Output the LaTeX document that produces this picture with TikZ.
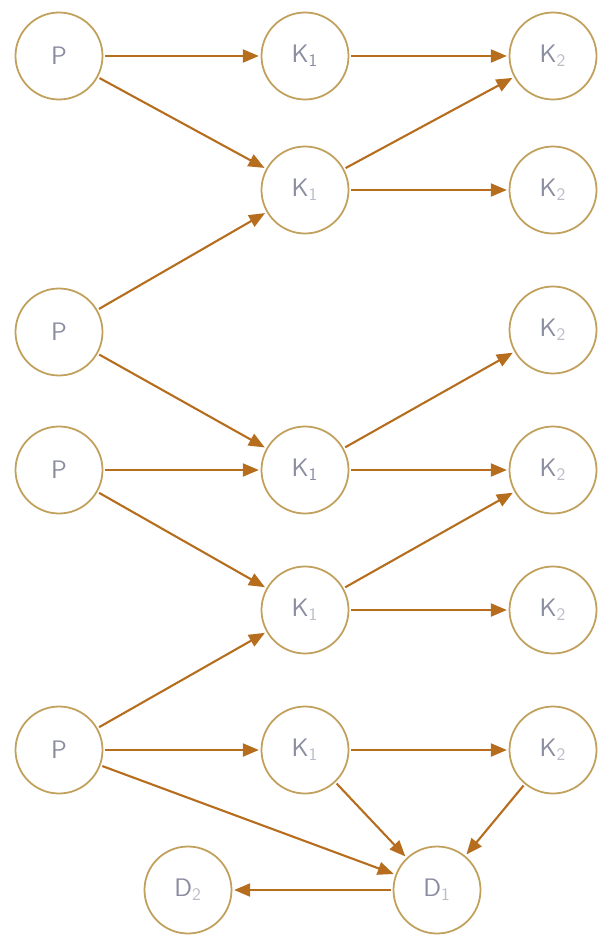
\documentclass[tikz,border=0pt]{standalone}
\usepackage{tikz}
\usetikzlibrary{arrows.meta, positioning}
\definecolor{ringgold}  {RGB}{192, 160, 90}
\definecolor{arrbrown}  {RGB}{182, 110, 30}
\definecolor{labgrey}   {RGB}{138, 140, 160}
\definecolor{subgrey}   {RGB}{186, 188, 200}

\newcommand{\kx}[1]{K\textsubscript{\color{subgrey}#1}}
\newcommand{\dx}[1]{D\textsubscript{\color{subgrey}#1}}

\begin{document}
\begin{tikzpicture}[
		ring/.style={circle,draw=ringgold,line width=1pt,fill=white,minimum size=1.74cm,
			inner sep=0pt,text=labgrey,font=\sffamily\Large},
		link/.style={-{Triangle[length=3.2mm,width=2.6mm]},arrbrown,line width=1.2pt,shorten >=1pt,shorten <=1pt}
	]
	\useasboundingbox (0,0) rectangle (11.94,-18.8);
	% column of P
	\node[ring] (p1) at (1.18,-1.12)  {P};
	\node[ring] (p2) at (1.18,-6.64)  {P};
	\node[ring] (p3) at (1.18,-9.4)   {P};
	\node[ring] (p4) at (1.18,-15.0)  {P};
	% middle column
	\node[ring] (ka) at (6.1,-1.12)   {K\textsubscript{1}};
	\node[ring] (kb) at (6.1,-3.8)    {\kx{1}};
	\node[ring] (kc) at (6.1,-9.4)    {K\textsubscript{1}};
	\node[ring] (kd) at (6.1,-12.2)   {\kx{1}};
	\node[ring] (ke) at (6.1,-15.0)   {\kx{1}};
	% right column
	\node[ring] (ra) at (11.06,-1.12) {\kx{2}};
	\node[ring] (rb) at (11.06,-3.8)  {\kx{2}};
	\node[ring] (rc) at (11.06,-6.6)  {\kx{2}};
	\node[ring] (rd) at (11.06,-9.4)  {\kx{2}};
	\node[ring] (re) at (11.06,-12.2) {\kx{2}};
	\node[ring] (rf) at (11.06,-15.0) {\kx{2}};
	% bottom row
	\node[ring] (d1) at (8.74,-17.8)  {\dx{1}};
	\node[ring] (d2) at (3.76,-17.8)  {\dx{2}};

	\draw[link] (p1) -- (ka);
	\draw[link] (p1) -- (kb);
	\draw[link] (ka) -- (ra);
	\draw[link] (kb) -- (ra);
	\draw[link] (kb) -- (rb);
	\draw[link] (p2) -- (kb);
	\draw[link] (p2) -- (kc);
	\draw[link] (kc) -- (rc);
	\draw[link] (kc) -- (rd);
	\draw[link] (p3) -- (kc);
	\draw[link] (p3) -- (kd);
	\draw[link] (kd) -- (rd);
	\draw[link] (kd) -- (re);
	\draw[link] (p4) -- (kd);
	\draw[link] (p4) -- (ke);
	\draw[link] (p4) -- (d1);
	\draw[link] (ke) -- (rf);
	\draw[link] (ke) -- (d1);
	\draw[link] (rf) -- (d1);
	\draw[link] (d1) -- (d2);
\end{tikzpicture}
\end{document}
